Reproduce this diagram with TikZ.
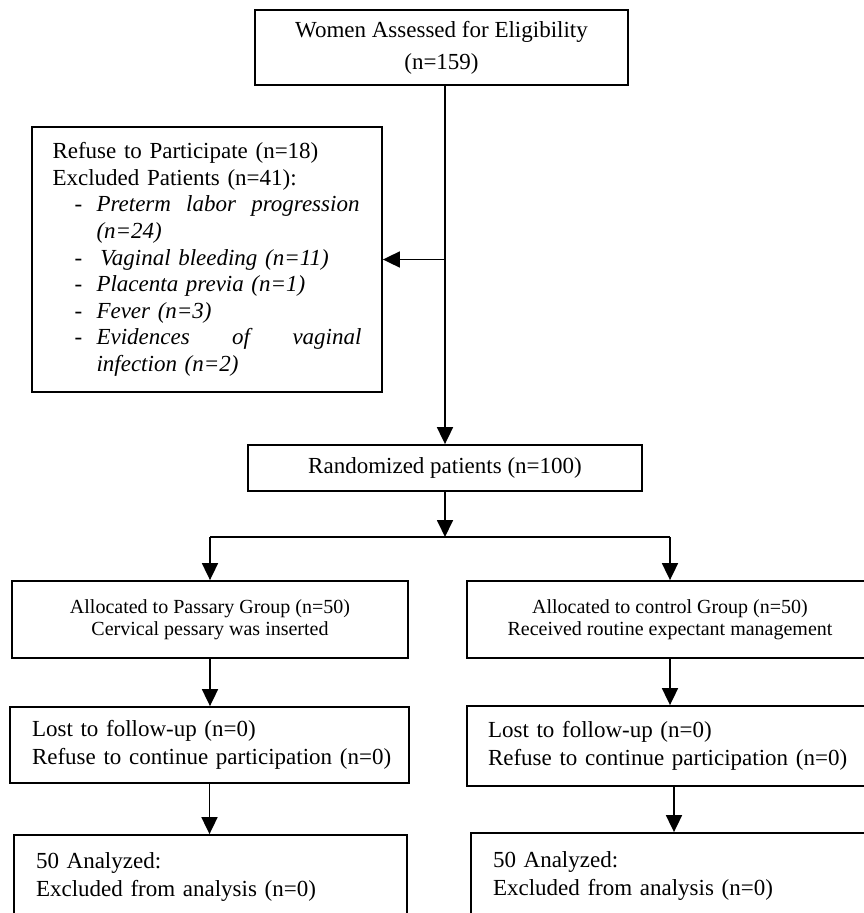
\documentclass[tikz,border=0pt]{standalone}
\usepackage{fontspec}
\setmainfont{Liberation Serif}
\usetikzlibrary{arrows.meta,positioning,calc}
\tikzset{
  bx/.style={draw=black, line width=1.8pt, fill=white, inner sep=0pt, align=center, font=\fontsize{23}{28}\selectfont},
  lbx/.style={bx, align=left},
  sbx/.style={bx, font=\fontsize{20}{22}\selectfont},
  arr/.style={-{Triangle[length=17pt,width=16pt]}, line width=1.8pt},
  ln/.style={line width=1.8pt},
}
\newcommand{\itm}[1]{\hspace*{22pt}\makebox[22pt][l]{-}\textit{#1}}
\newcommand{\itc}[1]{\hspace*{44pt}\textit{#1}}

\begin{document}
\begin{tikzpicture}[x=1pt, y=-1pt]
      \useasboundingbox (0,0) rectangle (864,913);
      \clip (0,0) rectangle (864,913);
      \node[bx, minimum width=373pt, minimum height=75pt] (assess) at (441.5,47.5) {Women Assessed for Eligibility\\[4pt](n=159)};
      \node[lbx, minimum width=350pt, minimum height=265pt, text width=309pt, font=\fontsize{23}{26.6}\selectfont] (excl) at (207,259.5) {Refuse to Participate (n=18)\\
        Excluded Patients (n=41):\\
        \itm{\makebox[263pt][l]{Preterm\hfill labor\hfill progression}}\\
        \itc{(n=24)}\\
        \itm{\,Vaginal bleeding (n=11)}\\
        \itm{Placenta previa (n=1)}\\
        \itm{Fever (n=3)}\\
        \itm{\makebox[265pt][l]{Evidences\hfill of\hfill vaginal}}\\
        \itc{infection (n=2)}};
      \node[bx, minimum width=394pt, minimum height=46pt] (rand) at (445,468) {Randomized patients (n=100)};
      \coordinate (split) at (445,537);
      \node[sbx, minimum width=396pt, minimum height=77pt] (pas) at (210,619.5) {Allocated to Passary Group (n=50)\\Cervical pessary was inserted};
      \node[sbx, minimum width=406pt, minimum height=77pt] (ctl) at (670,619.5) {Allocated to control Group (n=50)\\Received routine expectant management};
      \node[lbx, minimum width=399pt, minimum height=76pt, text width=355pt] (lostL) at (209.5,745) {Lost to follow-up (n=0)\\\mbox{Refuse to continue participation (n=0)}};
      \node[lbx, minimum width=406pt, minimum height=80pt, text width=364pt] (lostR) at (670,746) {Lost to follow-up (n=0)\\\mbox{Refuse to continue participation (n=0)}};
      \node[lbx, minimum width=393pt, minimum height=83pt, text width=349pt] (anaL) at (210.5,876.5) {50 Analyzed:\\Excluded from analysis (n=0)};
      \node[lbx, minimum width=406pt, minimum height=85pt, text width=362pt] (anaR) at (674,875.5) {50 Analyzed:\\Excluded from analysis (n=0)};
      \draw[arr] (assess.south -| rand.north) -- (rand.north);
      \draw[arr] (excl.east -| rand.north) -- (excl.east);
      \draw[arr] (rand.south) -- (split);
      \draw[ln] (split -| pas.north) -- (split -| ctl.north);
      \draw[arr] (split -| pas.north) -- (pas.north);
      \draw[arr] (split -| ctl.north) -- (ctl.north);
      \draw[arr] (pas.south) -- (pas.south |- lostL.north);
      \draw[arr] (ctl.south) -- (ctl.south |- lostR.north);
      \draw[arr] (lostL.south) -- (lostL.south |- anaL.north);
      \draw[arr] (anaR.north |- lostR.south) -- (anaR.north);
    \end{tikzpicture}
\end{document}
